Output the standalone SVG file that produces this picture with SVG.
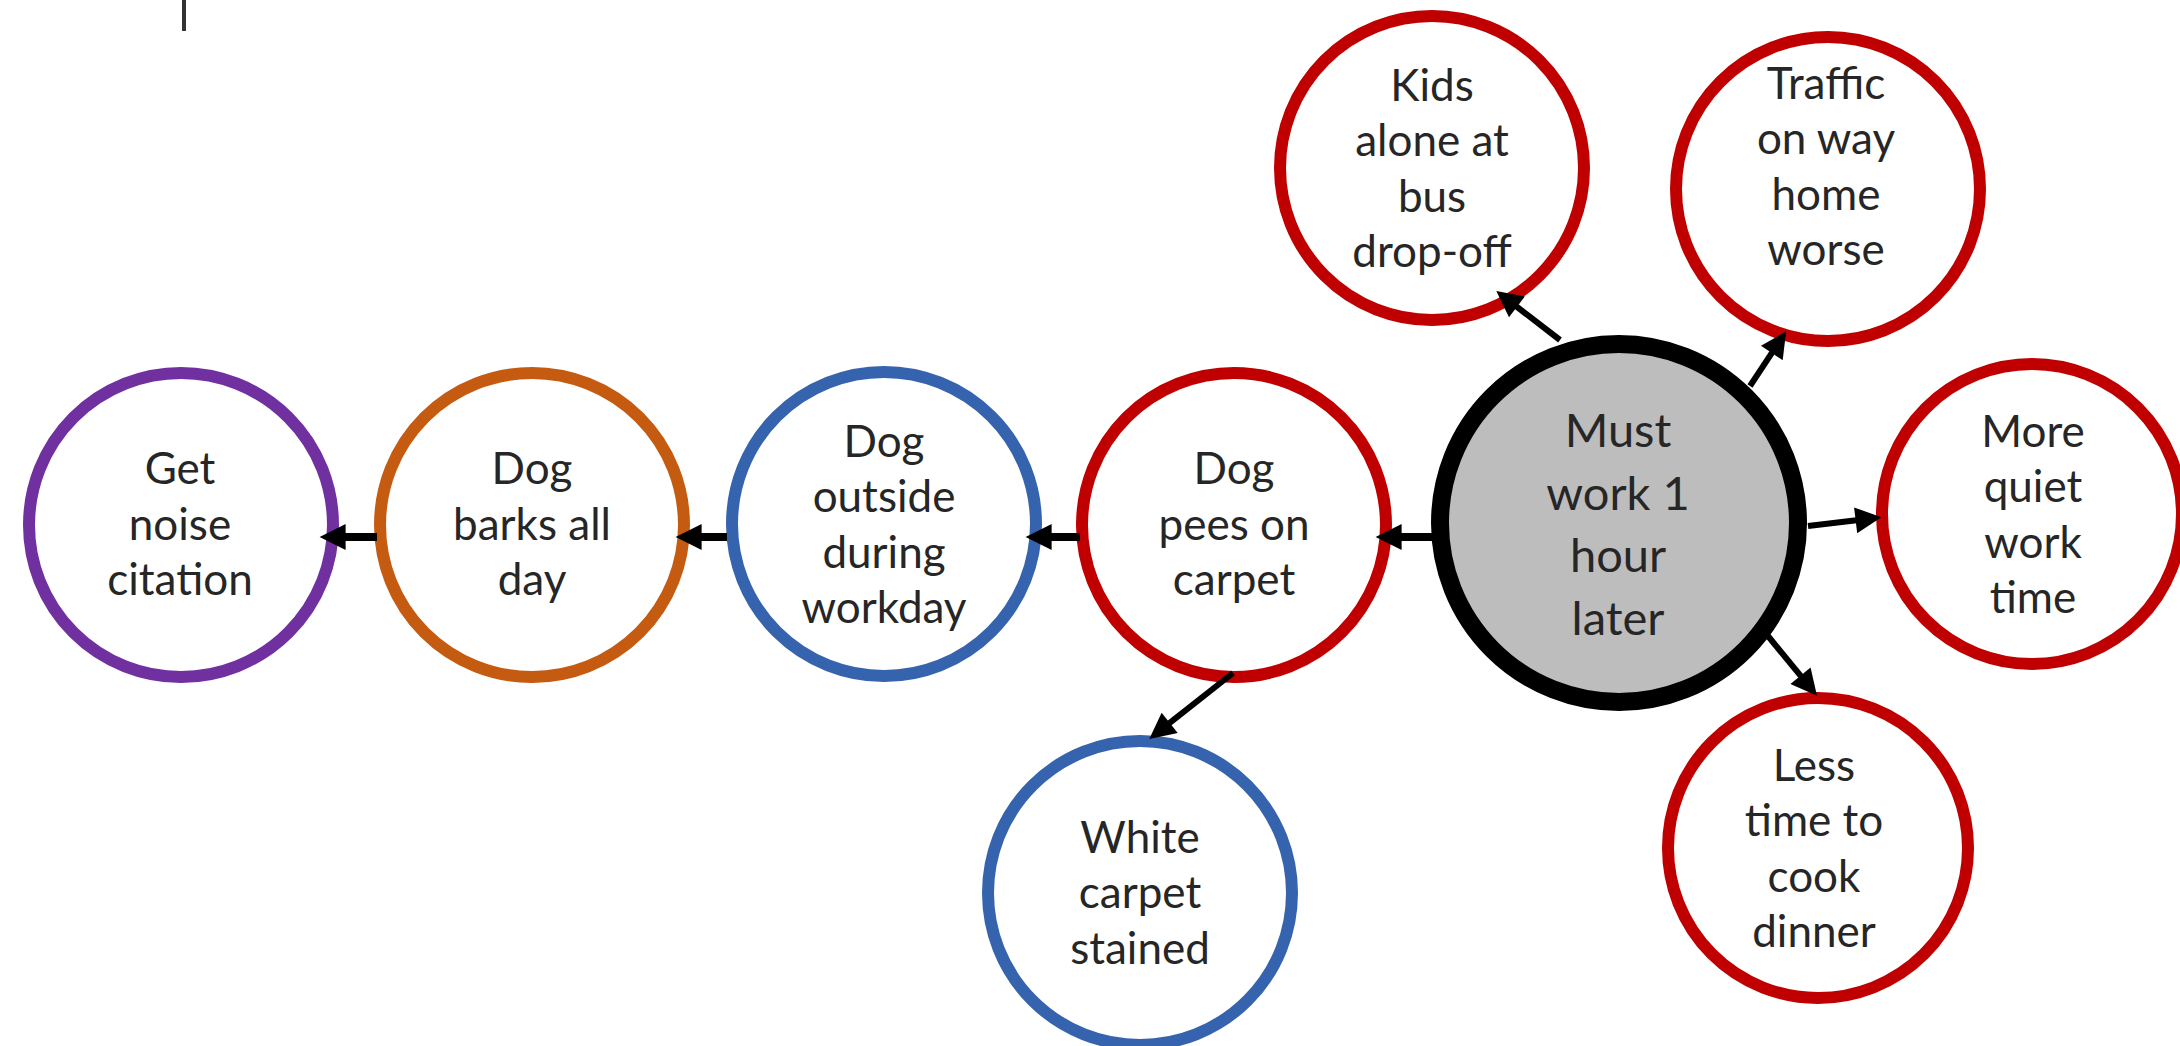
<svg xmlns="http://www.w3.org/2000/svg" width="2180" height="1046" viewBox="0 0 2180 1046">
<style>
.n{fill:#fff;stroke-width:12}
.red{stroke:#C00000}
.blue{stroke:#3563AE}
.orange{stroke:#C55A11}
.purple{stroke:#7030A0}
.main{fill:#BDBDBD;stroke:#000;stroke-width:18}
text{font-family:Lato,"Liberation Sans",sans-serif;font-size:44px;fill:#262626;text-anchor:middle}
.big{font-size:47px}
.c{stroke:#000;fill:none}
.h{stroke-width:8}
.d{stroke-width:6}
</style>
<defs>
<marker id="ah" viewBox="0 0 10 10" refX="2" refY="5" markerWidth="28" markerHeight="26" markerUnits="userSpaceOnUse" orient="auto">
<path d="M0,0 L10,5 L0,10 z" fill="#000"/>
</marker>
</defs>
<rect width="2180" height="1046" fill="#fff"/>
<line x1="184" y1="0" x2="184" y2="31" stroke="#333" stroke-width="4"/>
<g id="get-noise">
<circle class="n purple" cx="181" cy="525" r="152"/>
<text x="180" y="484">Get</text>
<text x="180" y="539.5">noise</text>
<text x="180" y="595">citation</text>
</g>
<g id="dog-barks">
<circle class="n orange" cx="532" cy="525" r="152"/>
<text x="532" y="484">Dog</text>
<text x="532" y="539.5">barks all</text>
<text x="532" y="595">day</text>
</g>
<g id="dog-outside">
<circle class="n blue" cx="884" cy="524" r="152"/>
<text x="884" y="456.5">Dog</text>
<text x="884" y="512">outside</text>
<text x="884" y="567.5">during</text>
<text x="884" y="623">workday</text>
</g>
<g id="dog-pees">
<circle class="n red" cx="1234" cy="525" r="152"/>
<text x="1234" y="484">Dog</text>
<text x="1234" y="539.5">pees on</text>
<text x="1234" y="595">carpet</text>
</g>
<g id="must-work">
<circle class="main" cx="1619" cy="523" r="179"/>
<text class="big" x="1618" y="447">Must</text>
<text class="big" x="1618" y="509.5">work 1</text>
<text class="big" x="1618" y="572">hour</text>
<text class="big" x="1618" y="634.5">later</text>
</g>
<g id="kids-alone">
<circle class="n red" cx="1432" cy="168" r="152"/>
<text x="1432" y="100.5">Kids</text>
<text x="1432" y="156">alone at</text>
<text x="1432" y="211.5">bus</text>
<text x="1432" y="267">drop-off</text>
</g>
<g id="traffic">
<circle class="n red" cx="1828" cy="189" r="152"/>
<text x="1826" y="98.5">Traffic</text>
<text x="1826" y="154">on way</text>
<text x="1826" y="209.5">home</text>
<text x="1826" y="265">worse</text>
</g>
<g id="more-quiet">
<circle class="n red" cx="2032" cy="514" r="150"/>
<text x="2033" y="446.5">More</text>
<text x="2033" y="502">quiet</text>
<text x="2033" y="557.5">work</text>
<text x="2033" y="613">time</text>
</g>
<g id="less-time">
<circle class="n red" cx="1818" cy="848" r="150"/>
<text x="1814" y="780.5">Less</text>
<text x="1814" y="836">time to</text>
<text x="1814" y="891.5">cook</text>
<text x="1814" y="947">dinner</text>
</g>
<g id="white-carpet">
<circle class="n blue" cx="1140" cy="893" r="152"/>
<text x="1140" y="852.5">White</text>
<text x="1140" y="908">carpet</text>
<text x="1140" y="963.5">stained</text>
</g>
<g id="connectors">
<line class="c h" x1="377" y1="537" x2="340.4" y2="537" marker-end="url(#ah)"/>
<line class="c h" x1="727" y1="537" x2="696.4" y2="537" marker-end="url(#ah)"/>
<line class="c h" x1="1080" y1="537" x2="1046.4" y2="537" marker-end="url(#ah)"/>
<line class="c h" x1="1432" y1="537" x2="1396.4" y2="537" marker-end="url(#ah)"/>
<line class="c d" x1="1560" y1="340" x2="1512.8" y2="303.7" marker-end="url(#ah)"/>
<line class="c d" x1="1750" y1="386" x2="1774.7" y2="348.7" marker-end="url(#ah)"/>
<line class="c d" x1="1808" y1="526" x2="1860.8" y2="519.7" marker-end="url(#ah)"/>
<line class="c d" x1="1768" y1="636" x2="1803.8" y2="679.7" marker-end="url(#ah)"/>
<line class="c d" x1="1233" y1="673" x2="1165.6" y2="726.1" marker-end="url(#ah)"/>
</g>
</svg>
